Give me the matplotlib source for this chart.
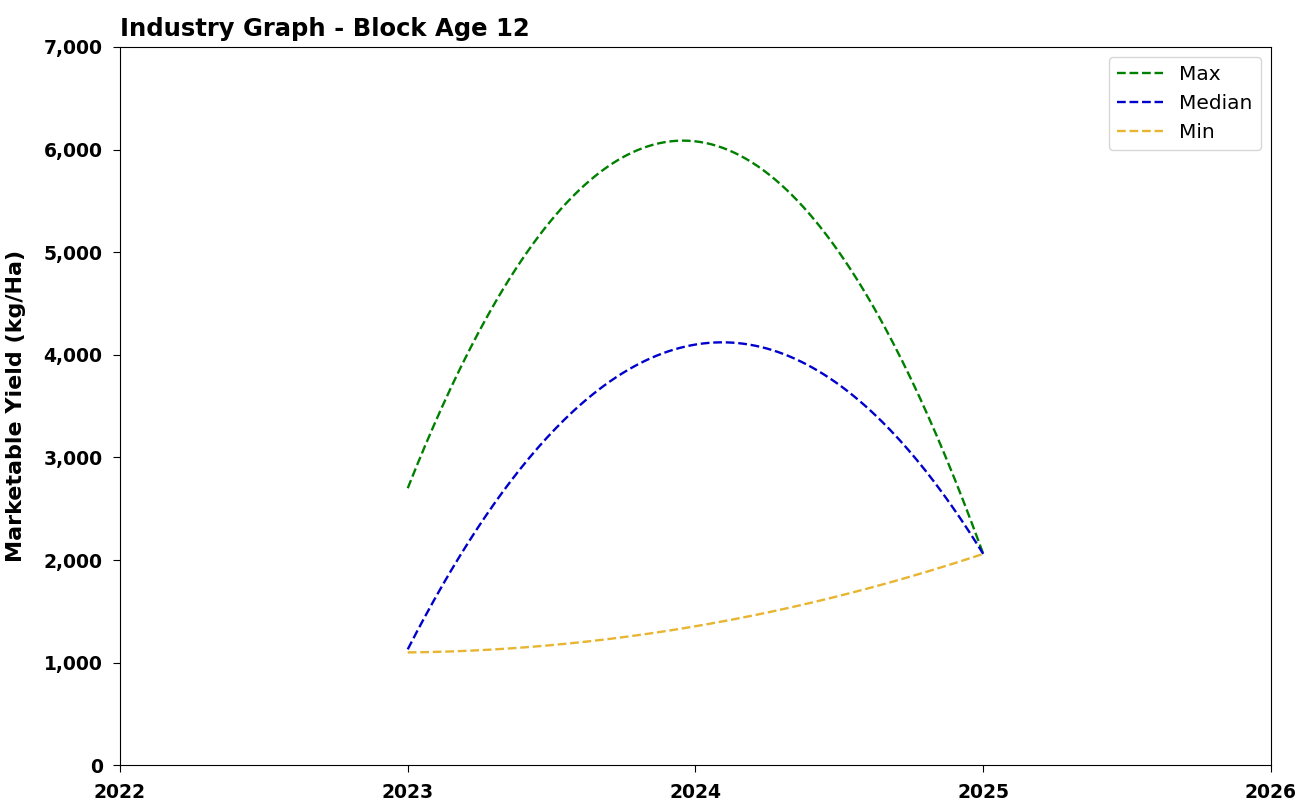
import numpy as np
import matplotlib.pyplot as plt
from matplotlib.ticker import FuncFormatter

# ---------- data ----------
YEARS = [2023, 2024, 2025]
MAX_YIELD = [2700, 6080, 2060]
MEDIAN_YIELD = [1130, 4100, 2060]
MIN_YIELD = [1100, 1355, 2060]

SERIES = [
    ("Max", MAX_YIELD, "green"),
    ("Median", MEDIAN_YIELD, "mediumblue"),
    ("Min", MIN_YIELD, "#e8b530"),
]

fig = plt.figure(figsize=(13.1, 8.09), dpi=100)
ax = fig.add_axes([0.0916, 0.054, 0.8786, 0.888])

# smooth quadratic through the three yearly points
xs = np.linspace(YEARS[0], YEARS[-1], 200)
for name, vals, c in SERIES:
    coef = np.polyfit(YEARS, vals, 2)
    ax.plot(xs, np.polyval(coef, xs), linestyle="--", color=c, linewidth=1.7, label=name)

ax.set_xlim(2022, 2026)
ax.set_ylim(0, 7000)
ax.set_xticks([2022, 2023, 2024, 2025, 2026])
ax.set_yticks(range(0, 7001, 1000))
ax.yaxis.set_major_formatter(FuncFormatter(lambda v, p: f"{int(v):,}"))
ax.tick_params(length=5, pad=7.5)
for lab in ax.get_xticklabels() + ax.get_yticklabels():
    lab.set_fontweight("bold")
    lab.set_fontsize(13.5)

ax.set_ylabel("Marketable Yield (kg/Ha)", fontsize=16, fontweight="bold")
ax.yaxis.set_label_coords(-0.082, 0.5)
ax.set_title("Industry Graph - Block Age 12", loc="left", fontsize=17.5,
             fontweight="bold", pad=8)
ax.legend(loc="upper right", fontsize=14.5, handlelength=2.3)

fig.savefig("out.png", dpi=100)
